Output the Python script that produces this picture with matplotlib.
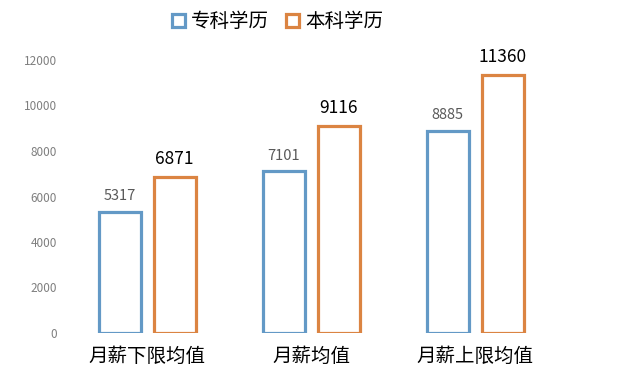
import matplotlib
matplotlib.use("Agg")
import matplotlib.pyplot as plt
import numpy as np
from matplotlib.patches import Patch

plt.rcParams['font.family'] = ['Noto Sans CJK SC', 'DejaVu Sans']

categories = ["月薪下限均值", "月薪均值", "月薪上限均值"]
series_names = ["专科学历", "本科学历"]
zhuanke = [5317, 7101, 8885]
benke = [6871, 9116, 11360]
yticks = [0, 2000, 4000, 6000, 8000, 10000, 12000]

blue = "#6399C6"
orange = "#DB8442"

fig = plt.figure(figsize=(6.21, 3.75), dpi=100)
ax = fig.add_axes([0.105, 0.112, 0.792, 0.728])

x = np.arange(len(categories))
w = 0.256
off = 0.168
ax.bar(x - off, zhuanke, w, facecolor="white", edgecolor=blue, linewidth=2.3)
ax.bar(x + off, benke, w, facecolor="white", edgecolor=orange, linewidth=2.3)

for xi, v in zip(x - off, zhuanke):
    ax.text(xi, v + 380, str(v), ha="center", va="bottom", fontsize=10.5,
            color="#595959", clip_on=False)
for xi, v in zip(x + off, benke):
    ax.text(xi, v + 380, str(v), ha="center", va="bottom", fontsize=12.5,
            color="black", clip_on=False)

ax.set_xlim(-0.5, 2.5)
ax.set_ylim(0, 12000)
ax.set_yticks(yticks)
ax.set_yticklabels([str(t) for t in yticks], fontsize=8.5, color="#7f7f7f")
ax.set_xticks(x)
ax.set_xticklabels(categories, fontsize=14, color="black")
ax.tick_params(axis="both", length=0)
ax.tick_params(axis="y", pad=6)
ax.tick_params(axis="x", pad=9)
for s in ax.spines.values():
    s.set_visible(False)

handles = [Patch(facecolor="white", edgecolor=blue, linewidth=2.3),
           Patch(facecolor="white", edgecolor=orange, linewidth=2.3)]
fig.legend(handles, series_names, loc="center", bbox_to_anchor=(0.447, 0.943),
           ncol=2, frameon=False, fontsize=14, handlelength=0.65, handleheight=0.65,
           handletextpad=0.3, columnspacing=0.9)

fig.savefig("out.png", dpi=100)
